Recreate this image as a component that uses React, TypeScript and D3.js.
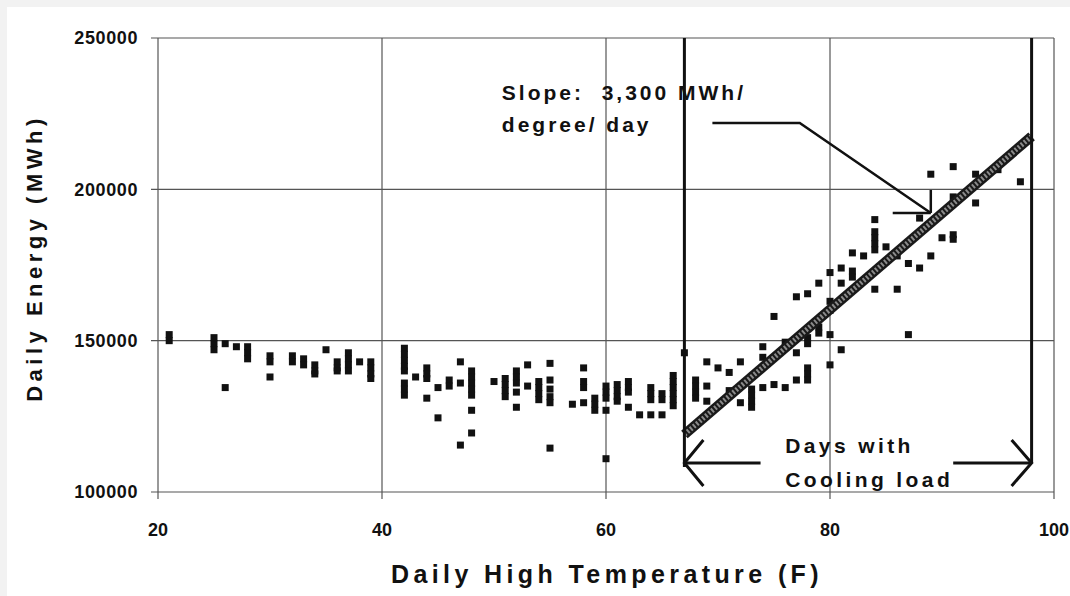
import * as d3 from "d3";

// daily high temperature (F) and the daily energy readings at that temperature
const dayTemps = [21, 25, 26, 27, 28, 30, 32, 33, 34, 35, 36, 37, 38, 39, 42, 43, 44, 45, 46, 47, 48, 50, 51, 52, 53, 54, 55, 57, 58, 59, 60, 61, 62, 63, 64, 65, 66, 67, 68, 69, 70, 71, 72, 73, 74, 75, 76, 77, 78, 79, 80, 81, 82, 83, 84, 85, 86, 87, 88, 89, 90, 91, 93, 95, 97];
const dayEnergy = [
  [152000, 150000],
  [151000, 149000, 147000],
  [149000, 134500],
  [148000],
  [148000, 146000, 144000],
  [145000, 143000, 138000],
  [145000, 143000],
  [144000, 142000],
  [142000, 140000, 139000],
  [147000],
  [143000, 141000, 140000],
  [146000, 144000, 142000, 140000],
  [143000],
  [143000, 141000, 139000, 137500],
  [147500, 145500, 143500, 141500, 140000, 136000, 134000, 132000],
  [138000],
  [141000, 139000, 137500, 131000],
  [134500, 124500],
  [137000, 135000],
  [143000, 136000, 115500],
  [140000, 138000, 136000, 134000, 132000, 127000, 119500],
  [136500],
  [137500, 135500, 133500, 131500],
  [140000, 138000, 136000, 133000, 128000],
  [142000, 135000],
  [136500, 134500, 132500, 130500],
  [142500, 137000, 134000, 131500, 129500, 114500],
  [129000],
  [141000, 136500, 134500, 129500],
  [131000, 129000, 127000],
  [135000, 133000, 131000, 127000, 111000],
  [135500, 133500, 131500, 130000],
  [136500, 134500, 133000, 128000],
  [125500],
  [134500, 132500, 130500, 125500],
  [132500, 130500, 125500],
  [138500, 136500, 134500, 132500, 130500, 128500],
  [146000],
  [137000, 135000, 133000, 131000],
  [143000, 135000, 130000],
  [141000],
  [139500, 133500],
  [143000, 129500],
  [134000, 132000, 130000, 128000],
  [148000, 144500, 134500],
  [158000, 135500],
  [149500, 134500],
  [164500, 146000, 137000],
  [165500, 151000, 149000, 141000, 139000, 137000],
  [169000, 154500, 152500],
  [172500, 163000, 160000, 152000, 142000],
  [174000, 169000, 147000],
  [179000, 173000, 171000],
  [178000],
  [190000, 186000, 184000, 182000, 180000, 167000],
  [181000],
  [178000, 167000],
  [175500, 152000],
  [174000, 190500],
  [178000, 205000],
  [184000],
  [207500, 197500, 185000, 183500],
  [205000, 195500],
  [206500],
  [202500],
];

// fitted cooling line and the cooling-load range
const fitTemps = [67, 98];
const fitEnergy = [119000, 217500];
const coolingRange = [67, 98];

const xTicks = [20, 40, 60, 80, 100];
const yTicks = [100000, 150000, 200000, 250000];
const slopeText = ["Slope:  3,300 MWh/", "degree/ day"];
const coolingText = ["Days with", "Cooling load"];

const font = "'Liberation Sans', Arial, sans-serif";

export default function App() {
  const width = 1070;
  const height = 596;
  const x = d3.scaleLinear().domain([20, 100]).range([158, 1054]);
  const y = d3.scaleLinear().domain([100000, 250000]).range([492, 38]);

  const points = dayTemps.flatMap((t, i) => dayEnergy[i].map((e) => [t, e]));
  const fitLine = d3.line<number>()
    .x((d) => x(d))
    .y((d, i) => y(fitEnergy[i]));

  const [x0, x1] = x.range();
  const [yb, yt] = y.range();
  const arrowY = y(109600);
  const cx0 = x(coolingRange[0]);
  const cx1 = x(coolingRange[1]);
  const tip = [x(89), y(192200)];

  return (
    <>
      <style>{`body{margin:0;background:#f2f2f2}`}</style>
      <svg width={width} height={height} style={{ display: "block" }} fontFamily={font}>
        <rect x={7} y={7} width={width - 7} height={height - 7} fill="#fff" />

        {/* grid */}
        <g stroke="#555" strokeWidth={1.2}>
          {yTicks.map((t) => (
            <line key={"gy" + t} x1={x0 - 7} x2={x1} y1={y(t)} y2={y(t)} />
          ))}
          {xTicks.map((t) => (
            <line key={"gx" + t} x1={x(t)} x2={x(t)} y1={yt} y2={yb + 7} />
          ))}
        </g>

        {/* tick labels */}
        <g fontSize={18} fontWeight="bold" fill="#111">
          {yTicks.map((t) => (
            <text key={"ly" + t} x={x0 - 20} y={y(t)} dy="0.35em" textAnchor="end" letterSpacing={0.6}>
              {t}
            </text>
          ))}
          {xTicks.map((t) => (
            <text key={"lx" + t} x={x(t)} y={530} dy="0.35em" textAnchor="middle">
              {t}
            </text>
          ))}
        </g>

        {/* points */}
        <g fill="#111">
          {points.map(([t, e], i) => (
            <rect key={i} x={x(t) - 3.5} y={y(e) - 3.5} width={7} height={7} />
          ))}
        </g>

        {/* fitted line */}
        <path d={fitLine(fitTemps) ?? ""} stroke="#1a1a1a" strokeWidth={10} fill="none" />
        <path d={fitLine(fitTemps) ?? ""} stroke="#8a8a8a" strokeWidth={5} strokeDasharray="2 2" fill="none" />

        {/* cooling range markers */}
        <g stroke="#111" strokeWidth={3} fill="none">
          <line x1={cx0} x2={cx0} y1={yt} y2={arrowY + 4} />
          <line x1={cx1} x2={cx1} y1={yt} y2={arrowY} />
          <line x1={cx0} x2={x(73.8)} y1={arrowY} y2={arrowY} />
          <line x1={x(91)} x2={cx1} y1={arrowY} y2={arrowY} />
          <polyline points={`${cx0 + 19},${arrowY - 23} ${cx0},${arrowY} ${cx0 + 19},${arrowY + 23}`} />
          <polyline points={`${cx1 - 20},${arrowY - 23} ${cx1},${arrowY} ${cx1 - 20},${arrowY + 23}`} />
        </g>
        <g fontSize={21} fontWeight="bold" fill="#111" letterSpacing={3.4}>
          {coolingText.map((s, i) => (
            <text key={s} x={x(76)} y={y(112900) + i * 34}>
              {s}
            </text>
          ))}
        </g>

        {/* slope annotation */}
        <g fontSize={21} fontWeight="bold" fill="#111" letterSpacing={3}>
          {slopeText.map((s, i) => (
            <text key={s} x={x(50.7)} y={y(229500) + i * 32} style={{ whiteSpace: "pre" }}>
              {s}
            </text>
          ))}
        </g>
        <g stroke="#111" strokeWidth={2.5} fill="none">
          <polyline points={`${x(69.5)},${y(221900)} ${x(77.3)},${y(221900)} ${tip[0]},${tip[1]}`} />
          <line x1={x(85.6)} x2={tip[0]} y1={tip[1]} y2={tip[1]} />
          <line x1={tip[0]} x2={tip[0]} y1={y(199800)} y2={tip[1]} />
        </g>

        {/* axis titles */}
        <text x={607} y={583} textAnchor="middle" fontSize={25} fontWeight="bold" letterSpacing={4.4} fill="#111">
          Daily High Temperature (F)
        </text>
        <text
          transform={`translate(42,258) rotate(-90)`}
          textAnchor="middle"
          fontSize={22}
          fontWeight="bold"
          letterSpacing={4.5}
          fill="#111"
        >
          Daily Energy (MWh)
        </text>
      </svg>
    </>
  );
}
